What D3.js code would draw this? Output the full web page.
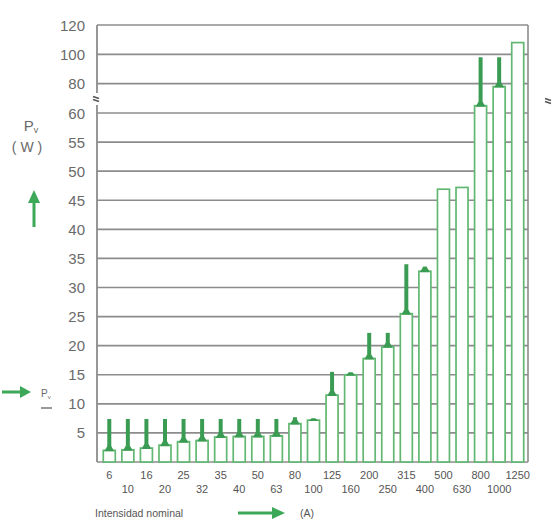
<!DOCTYPE html>
<html><head><meta charset="utf-8">
<script src="https://cdn.jsdelivr.net/npm/d3@7"></script>
<style>html,body{margin:0;padding:0;background:#fff}svg{display:block}</style>
</head><body>
<svg id="c" width="553" height="520"></svg>
<script>
const categories = ["6","10","16","20","25","32","35","40","50","63","80","100","125","160","200","250","315","400","500","630","800","1000","1250"];
const nominalLoss = [2.0,2.1,2.4,2.9,3.5,3.7,4.3,4.4,4.4,4.5,6.6,7.2,11.5,15.0,17.8,19.8,25.5,32.8,46.9,47.2,65,78,108];
const maxLoss = [7.4,7.4,7.4,7.4,7.4,7.4,7.4,7.4,7.4,7.4,7.7,7.5,15.5,15.4,22.2,22.2,34,33.6,null,null,98,98,null];
const yTicks = [5,10,15,20,25,30,35,40,45,50,55,60,80,100,120];

const svg = d3.select("#c");
const x = d3.scaleBand().domain(categories).range([100,527]).padding(0);
const y = d3.scaleLinear().domain([0,60,120]).range([462,113,25]);

const gridColor = "#8c8c8c", barGreen = "#62b872", stemGreen = "#3a9c52", arrowGreen = "#3da858", textGray = "#6a6a6a";

// gridlines
svg.append("g").selectAll("line").data(yTicks).join("line")
  .attr("x1",97).attr("x2",528).attr("y1",d=>y(d)).attr("y2",d=>y(d))
  .attr("stroke",gridColor).attr("stroke-width",1.6);

// frame: right + bottom
svg.append("line").attr("x1",528).attr("x2",528).attr("y1",y(120)).attr("y2",y(0)).attr("stroke",gridColor).attr("stroke-width",1.6);
svg.append("line").attr("x1",97).attr("x2",528).attr("y1",y(0)).attr("y2",y(0)).attr("stroke",gridColor).attr("stroke-width",1.6);
// left axis with break
svg.append("line").attr("x1",97).attr("x2",97).attr("y1",y(120)).attr("y2",93).attr("stroke",gridColor).attr("stroke-width",1.8);
svg.append("line").attr("x1",97).attr("x2",97).attr("y1",105).attr("y2",y(0)).attr("stroke",gridColor).attr("stroke-width",1.8);

// y tick labels
svg.append("g").selectAll("text").data(yTicks).join("text")
  .attr("x",85).attr("y",d=>y(d)+5.5).attr("text-anchor","end")
  .attr("font-family","Liberation Sans, Arial, sans-serif").attr("font-size",15)
  .attr("fill",textGray).text(d=>d);

// break marks
function breakMark(cx, cy){
  const g = svg.append("g").attr("transform",`translate(${cx},${cy})`);
  [-1.5,1.5].forEach(o=>{
    g.append("path").attr("d",`M-3,${o-1} L3,${o+1}`).attr("stroke","#555").attr("stroke-width",1.6).attr("fill","none");
  });
}
breakMark(96,99);
breakMark(548,101);

const bw = 12;
// bars
const bars = svg.append("g");
bars.selectAll("rect").data(categories).join("rect")
  .attr("x",d=>x(d)+x.bandwidth()/2-bw/2)
  .attr("y",(d,i)=>y(nominalLoss[i]))
  .attr("width",bw)
  .attr("height",(d,i)=>y(0)-y(nominalLoss[i]))
  .attr("fill","#fff").attr("stroke",barGreen).attr("stroke-width",1.7);

// stems
const stems = categories.map((c,i)=>({c,i})).filter(d=>maxLoss[d.i]!=null);
svg.append("g").selectAll("line").data(stems).join("line")
  .attr("x1",d=>x(d.c)+x.bandwidth()/2).attr("x2",d=>x(d.c)+x.bandwidth()/2)
  .attr("y1",d=>y(maxLoss[d.i])).attr("y2",d=>y(nominalLoss[d.i]))
  .attr("stroke",stemGreen).attr("stroke-width",4);
svg.append("g").selectAll("path").data(stems).join("path")
  .attr("d",d=>{
    const cx = x(d.c)+x.bandwidth()/2, yb = y(nominalLoss[d.i]);
    const h = Math.min(4, yb - y(maxLoss[d.i]));
    return `M${cx-2},${yb-h} L${cx+2},${yb-h} L${cx+5},${yb+1} L${cx-5},${yb+1} Z`;
  })
  .attr("fill",stemGreen);

// x labels (two staggered rows)
svg.append("g").selectAll("text").data(categories).join("text")
  .attr("x",d=>x(d)+x.bandwidth()/2)
  .attr("y",(d,i)=> i%2===0 ? 479 : 493)
  .attr("text-anchor","middle")
  .attr("font-family","Liberation Sans, Arial, sans-serif").attr("font-size",11)
  .attr("fill","#555").text(d=>d);

// axis titles
const tf = "Liberation Sans, Arial, sans-serif";
const pv = svg.append("text").attr("x",31).attr("y",131).attr("text-anchor","middle")
  .attr("font-family",tf).attr("font-size",15).attr("fill",textGray);
pv.append("tspan").text("P");
pv.append("tspan").attr("font-size",9).attr("dy",2).text("v");
svg.append("text").attr("x",27).attr("y",152).attr("text-anchor","middle")
  .attr("font-family",tf).attr("font-size",14).attr("fill",textGray).text("( W )");

// up arrow
svg.append("line").attr("x1",34).attr("x2",34).attr("y1",227).attr("y2",200).attr("stroke",arrowGreen).attr("stroke-width",3);
svg.append("path").attr("d","M28,203 L34,190 L40,203 Z").attr("fill",arrowGreen);

// left-bottom arrow and Pv
svg.append("line").attr("x1",2).attr("x2",22).attr("y1",392).attr("y2",392).attr("stroke",arrowGreen).attr("stroke-width",3);
svg.append("path").attr("d","M20,386 L31,392 L20,398 Z").attr("fill",arrowGreen);
const pv2 = svg.append("text").attr("x",41).attr("y",397).attr("font-family",tf).attr("font-size",10).attr("fill",textGray);
pv2.append("tspan").text("P");
pv2.append("tspan").attr("font-size",6).attr("dy",1.5).text("v");
svg.append("line").attr("x1",41).attr("x2",52).attr("y1",408).attr("y2",408).attr("stroke","#777").attr("stroke-width",1.5);

// bottom title
svg.append("text").attr("x",95).attr("y",517).attr("font-family",tf).attr("font-size",10.5)
  .attr("fill","#555").text("Intensidad nominal");
svg.append("line").attr("x1",238).attr("x2",274).attr("y1",513).attr("y2",513).attr("stroke",arrowGreen).attr("stroke-width",3);
svg.append("path").attr("d","M272,507 L285,513 L272,519 Z").attr("fill",arrowGreen);
svg.append("text").attr("x",300).attr("y",517).attr("font-family",tf).attr("font-size",10.5)
  .attr("fill","#555").text("(A)");
</script>
</body></html>
